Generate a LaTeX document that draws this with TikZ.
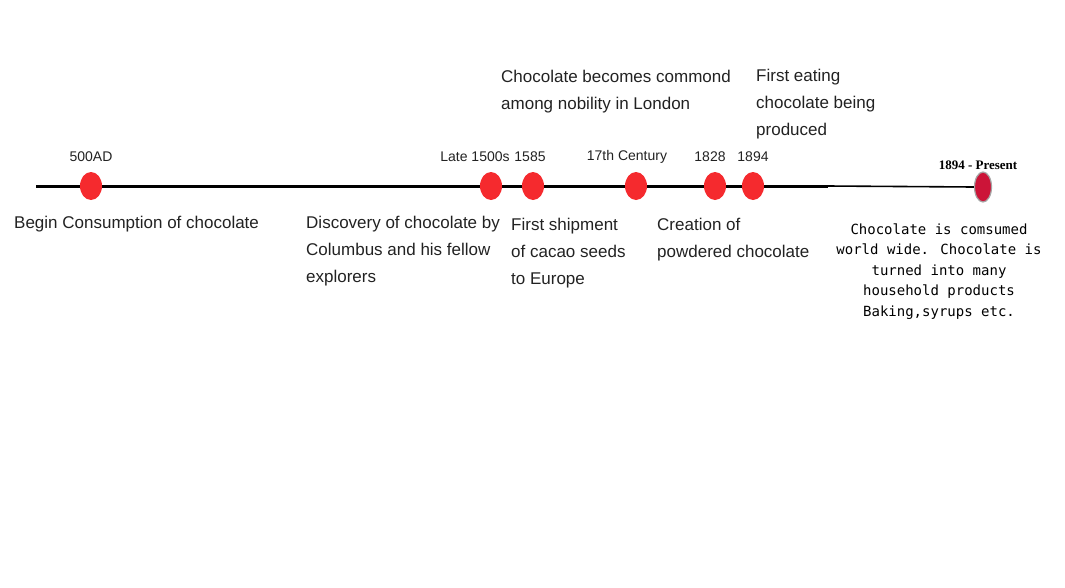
\documentclass[tikz,border=0pt]{standalone}
\usetikzlibrary{shapes.geometric}
\usepackage{fontspec}
\setmainfont{Liberation Sans}
\newfontfamily\monof{DejaVu Sans Mono}
\newfontfamily\serifb{Liberation Serif}
\definecolor{dotred}{HTML}{F52A2E}
\definecolor{endred}{HTML}{CC1438}
\definecolor{txt}{HTML}{222222}
\begin{document}
\begin{tikzpicture}[x=1pt,y=-1pt,
  dot/.style={ellipse,fill=dotred,minimum width=22pt,minimum height=28pt,inner sep=0pt},
  yr/.style={font=\fontsize{14}{16}\selectfont,text=txt,inner sep=0pt},
  desc/.style={font=\fontsize{17}{27}\selectfont,text=txt,inner sep=0pt,align=left,anchor=base west}]
\useasboundingbox (0,0) rectangle (1065,587);
\coordinate (L) at (36,186);
\coordinate (M) at (828,186);
\node[ellipse,fill=endred,draw=gray!70,line width=1.2pt,minimum width=17pt,minimum height=30pt,inner sep=0pt] (d8) at (983,187) {};
\draw[line width=3pt] (L) -- (M);
\draw[line width=1.6pt] (M) -- (d8.west);
\node[dot] (d1) at (91,186) {};
\node[dot] (d2) at (491,186) {};
\node[dot] (d3) at (533,186) {};
\node[dot] (d4) at (636,186) {};
\node[dot] (d5) at (715,186) {};
\node[dot] (d6) at (753,186) {};
\node[yr] (y1) at (91,157) {500AD};
\node[yr] (y2) at (475,157) {Late 1500s};
\node[yr] (y3) at (530,157) {1585};
\node[yr] (y4) at (627,157) {17th Century};
\node[yr] (y5) at (710,157) {1828};
\node[yr] (y6) at (753,157) {1894};
\node[font=\serifb\bfseries\fontsize{13}{15}\selectfont,inner sep=0pt] (y8) at (978,165) {1894 - Present};
\node[desc] (t1) at (14,228) {Begin Consumption of chocolate};
\node[desc] (t2) at (306,282) {Discovery of chocolate by\\Columbus and his fellow\\explorers};
\node[desc] (t3) at (511,284) {First shipment\\of cacao seeds\\to Europe};
\node[desc] (t4) at (657,257) {Creation of\\powdered chocolate};
\node[desc] (t5) at (501,109) {Chocolate becomes commond\\among nobility in London};
\node[desc] (t6) at (756,135) {First eating\\chocolate being\\produced};
\node[font=\monof\fontsize{14}{20.5}\selectfont,align=center,inner sep=0pt,anchor=base] (t8) at (939,316) {Chocolate is comsumed\\world wide. Chocolate is\\turned into many\\household products\\Baking,syrups etc.};
\end{tikzpicture}
\end{document}
